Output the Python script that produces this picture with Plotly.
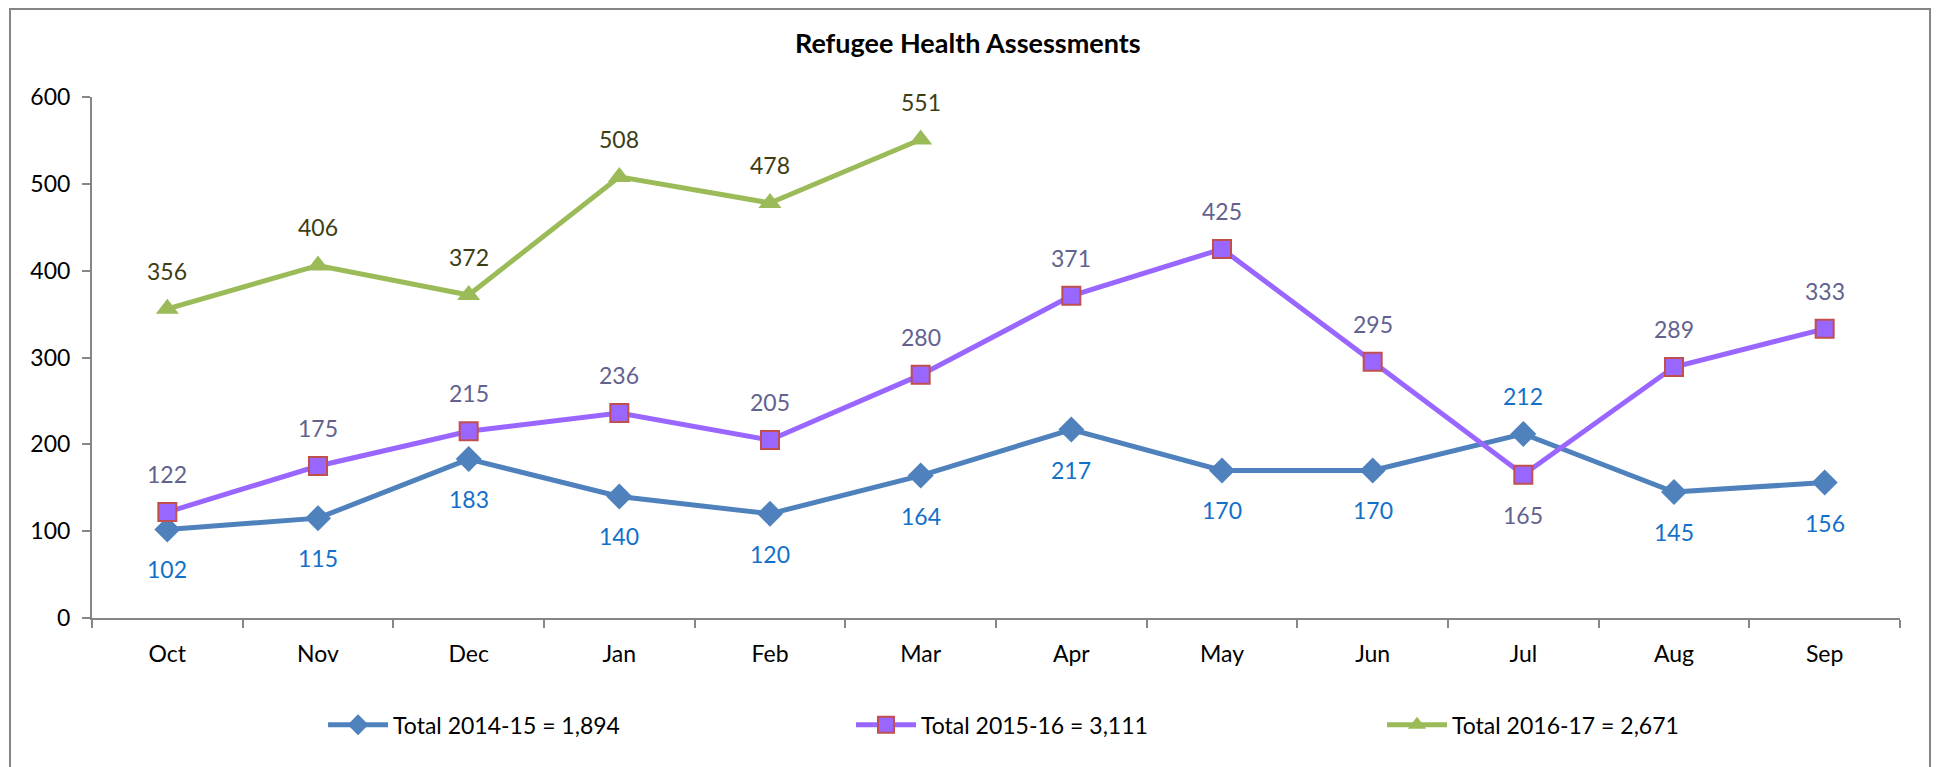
import plotly.graph_objects as go

months = ["Oct", "Nov", "Dec", "Jan", "Feb", "Mar", "Apr", "May", "Jun", "Jul", "Aug", "Sep"]
s1_name = "Total 2014-15 = 1,894"
s1 = [102, 115, 183, 140, 120, 164, 217, 170, 170, 212, 145, 156]
s2_name = "Total 2015-16 = 3,111"
s2 = [122, 175, 215, 236, 205, 280, 371, 425, 295, 165, 289, 333]
s3_name = "Total 2016-17 = 2,671"
s3 = [356, 406, 372, 508, 478, 551]
y_ticks = [0, 100, 200, 300, 400, 500, 600]

# label placement: +1 above, -1 below
s1_pos = [-1, -1, -1, -1, -1, -1, -1, -1, -1, 1, -1, -1]
s2_pos = [1, 1, 1, 1, 1, 1, 1, 1, 1, -1, 1, 1]
s3_pos = [1] * len(s3)

FONT = "Lato, Open Sans, sans-serif"
C1, C2, C3 = "#4F81BD", "#9966FF", "#9BBB59"
L1, L2, L3 = "#1370C9", "#62628F", "#3D3D14"

W, H = 1939, 767
ML, MR, MT, MB = 84, 47, 89, 157
PW, PH = W - ML - MR, H - MT - MB

fig = go.Figure()
fig.add_trace(go.Scatter(x=months, y=s1, name=s1_name, mode="lines+markers",
                         line=dict(color=C1, width=5),
                         marker=dict(symbol="diamond", size=20, color=C1),
                         legend="legend"))
fig.add_trace(go.Scatter(x=months, y=s2, name=s2_name, mode="lines+markers",
                         line=dict(color=C2, width=5),
                         marker=dict(symbol="square", size=18, color=C2,
                                     line=dict(color="#C0504D", width=2)),
                         legend="legend2"))
fig.add_trace(go.Scatter(x=months[:len(s3)], y=s3, name=s3_name, mode="lines+markers",
                         line=dict(color=C3, width=5),
                         marker=dict(symbol="triangle-up", size=20, color=C3),
                         legend="legend3"))

annots = []
for xs, ys, pos, col in [(months, s1, s1_pos, L1), (months, s2, s2_pos, L2),
                         (months[:len(s3)], s3, s3_pos, L3)]:
    for x, y, p in zip(xs, ys, pos):
        annots.append(dict(x=x, y=y, text=str(y), showarrow=False,
                           yshift=38 if p > 0 else -40,
                           font=dict(size=23, color=col, family=FONT)))

leg_common = dict(orientation="h", yanchor="middle", y=-0.205, xanchor="left",
                  font=dict(size=23, color="#000000", family=FONT),
                  bgcolor="rgba(0,0,0,0)", itemwidth=60)

fig.update_layout(
    width=W, height=H,
    margin=dict(l=ML, r=MR, t=MT, b=MB),
    paper_bgcolor="white", plot_bgcolor="white",
    font=dict(family=FONT, size=23, color="#000000"),
    title=dict(text="<b>Refugee Health Assessments</b>", x=0.495, xref="container",
               xanchor="center", y=0.954, yanchor="middle",
               font=dict(size=27, family=FONT, color="#000000")),
    showlegend=True,
    legend=dict(x=0.1278, **leg_common),
    legend2=dict(x=0.4198, **leg_common),
    legend3=dict(x=0.7135, **leg_common),
    annotations=annots,
    shapes=[dict(type="rect", xref="paper", yref="paper",
                 x0=(2 - ML) / PW, x1=(1922 - ML) / PW,
                 y0=-MB / PH - 0.01, y1=(PH + MT - 1) / PH,
                 line=dict(color="#868686", width=2), fillcolor="rgba(0,0,0,0)",
                 layer="below")],
    xaxis=dict(type="category", categoryorder="array", categoryarray=months,
               range=[-0.5, 11.5], showline=True, linecolor="#868686", linewidth=2,
               ticks="outside", ticklen=8, tickcolor="#868686", tickwidth=2,
               tickson="boundaries", showgrid=False, zeroline=False,
               ticklabelstandoff=14,
               tickfont=dict(size=23, family=FONT, color="#000000")),
    yaxis=dict(range=[0, 600], tickvals=y_ticks, showline=True, linecolor="#868686",
               linewidth=2, ticks="outside", ticklen=8, tickcolor="#868686", tickwidth=2,
               showgrid=False, zeroline=False, ticklabelstandoff=7,
               tickfont=dict(size=23, family=FONT, color="#000000")),
)

fig.write_html("out.html")
